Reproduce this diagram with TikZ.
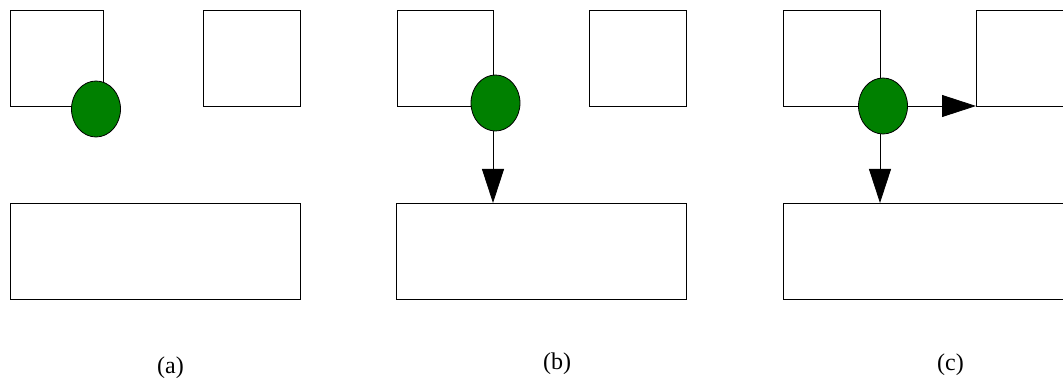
\documentclass[tikz,border=0pt]{standalone}
\usepackage{fontspec}
\setmainfont{Liberation Serif}
\usetikzlibrary{arrows.meta,shapes.geometric}
\definecolor{dotgreen}{RGB}{0,128,0}
\begin{document}
\begin{tikzpicture}[x=1pt,y=-1pt,
  boxshape/.style={draw,line width=0.8pt,inner sep=0pt,outer sep=0pt},
  dotshape/.style={ellipse,draw,line width=0.8pt,fill=dotgreen,minimum width=49pt,minimum height=56pt,inner sep=0pt,outer sep=0pt},
  flow/.style={line width=0.8pt,-{Triangle[length=34pt,width=22pt]}},
  caption/.style={font=\fontsize{24}{28}\selectfont,inner sep=0pt}]
\useasboundingbox (0,0) rectangle (1063,382);
% panel a
\node[boxshape,minimum width=93pt,minimum height=96pt] (a1) at (56.5,58) {};
\node[boxshape,minimum width=97pt,minimum height=96pt] (a2) at (251.5,58) {};
\node[boxshape,minimum width=290pt,minimum height=96pt] (a3) at (155,251) {};
\node[dotshape] (ae) at (96,109) {};
\node[caption] (la) at (170.5,368) {(a)};
% panel b
\node[boxshape,minimum width=96pt,minimum height=96pt] (b1) at (445,58) {};
\node[boxshape,minimum width=97pt,minimum height=96pt] (b2) at (638,58) {};
\node[boxshape,minimum width=290pt,minimum height=96pt] (b3) at (541.5,251) {};
\node[dotshape] (be) at (495.5,103) {};
\draw[flow] (b1.east |- be.south) -- (b1.east |- b3.north);
\node[caption] (lb) at (557,364) {(b)};
% panel c
\node[boxshape,minimum width=97pt,minimum height=96pt] (c1) at (831.5,58) {};
\node[boxshape,minimum width=97pt,minimum height=96pt] (c2) at (1024.5,58) {};
\node[boxshape,minimum width=290pt,minimum height=96pt] (c3) at (928,251) {};
\node[dotshape] (ce) at (883,106) {};
\draw[flow] (c1.east |- ce.south) -- (c1.east |- c3.north);
\draw[flow] (ce.east) -- (ce.east -| c2.west);
\node[caption] (lc) at (950.5,364.5) {(c)};
\end{tikzpicture}
\end{document}
